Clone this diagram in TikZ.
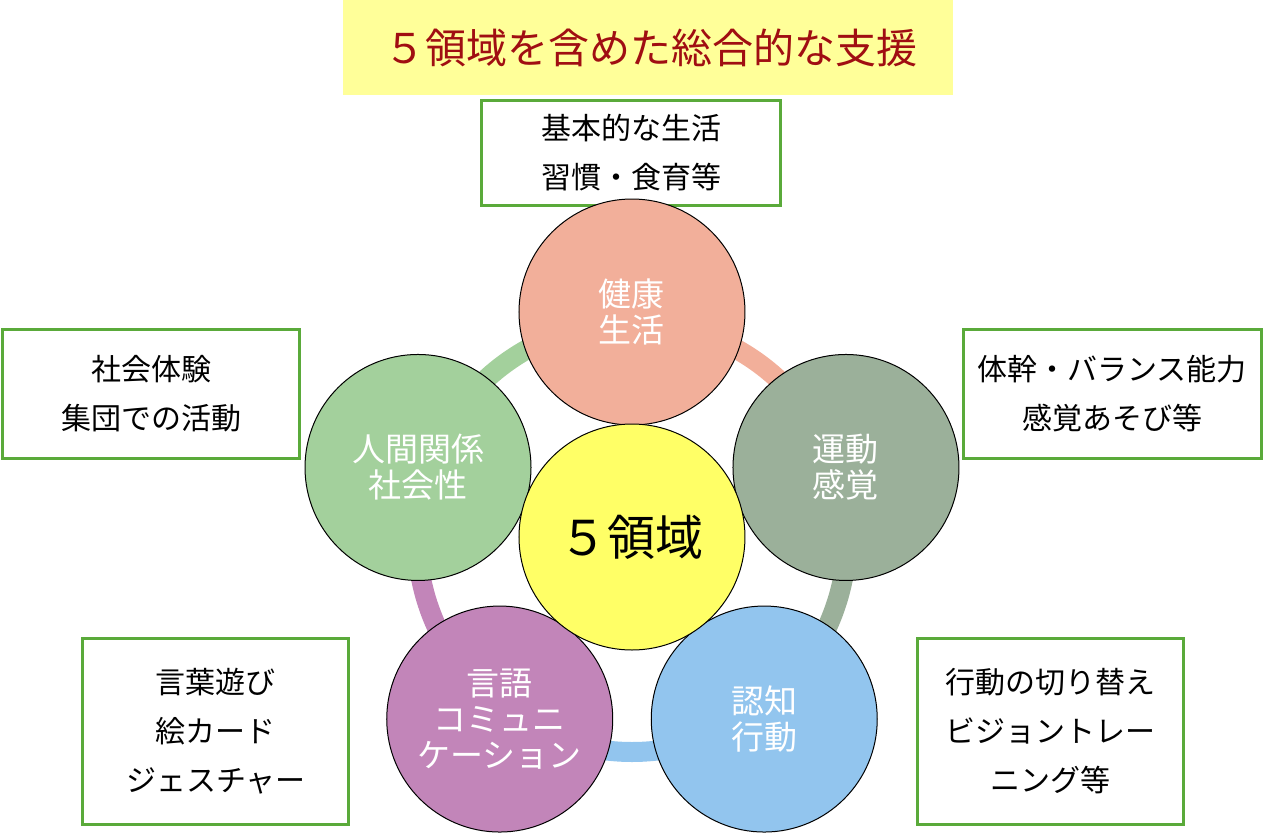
\documentclass[tikz,border=0pt]{standalone}
\usepackage{fontspec}
\setmainfont{Noto Sans CJK JP}
\usepackage{tikz}
\usetikzlibrary{positioning}

\definecolor{kenkoColor}{HTML}{F2AF9A}
\definecolor{undoColor}{HTML}{9BB09A}
\definecolor{ninchiColor}{HTML}{92C5EE}
\definecolor{gengoColor}{HTML}{C285B9}
\definecolor{ningenColor}{HTML}{A3D09C}
\definecolor{coreColor}{HTML}{FFFF66}
\definecolor{titleBack}{HTML}{FFFF99}
\definecolor{titleText}{HTML}{A00E12}
\definecolor{boxGreen}{HTML}{5AAA3A}

\tikzset{
  area/.style={circle, draw=black, line width=0.5pt, minimum size=113pt,
    inner sep=0pt, align=center, text=white,
    font=\fontsize{16.5}{18}\selectfont},
  note/.style={draw=boxGreen, line width=1.5pt, fill=white, align=center,
    inner sep=0pt, font=\fontsize{15}{24.5}\selectfont},
  ring/.style={line width=10pt}
}

\begin{document}
\begin{tikzpicture}[x=0.5pt, y=0.5pt]
\useasboundingbox (-632,-295) rectangle (632,537);

% Title
\fill[titleBack] (-289,442) rectangle (321,537);
\node[text=titleText, font=\fontsize{20.5}{24}\selectfont] (title) at (19,489) {５領域を含めた総合的な支援};

% Notes
\node[note, minimum width=149.5pt, minimum height=52.5pt] (kenkoNote) at (-0.5,384.5) {基本的な生活\\習慣・食育等};
\node[note, minimum width=148.5pt, minimum height=64.5pt] (ningenNote) at (-480.5,143.5) {社会体験\\集団での活動};
\node[note, minimum width=149pt, minimum height=64.5pt] (undoNote) at (480,143.5) {体幹・バランス能力\\感覚あそび等};
\node[note, minimum width=133pt, minimum height=93pt] (gengoNote) at (-416,-194) {言葉遊び\\絵カード\\ジェスチャー};
\node[note, minimum width=133pt, minimum height=93pt] (ninchiNote) at (418,-194) {行動の切り替え\\ビジョントレー\\ニング等};

% Ring behind the circles
\draw[ring, kenkoColor] (90:215) arc[start angle=90, end angle=18, radius=215];
\draw[ring, undoColor] (18:215) arc[start angle=18, end angle=-54, radius=215];
\draw[ring, ninchiColor] (-54:215) arc[start angle=-54, end angle=-126, radius=215];
\draw[ring, gengoColor] (-126:215) arc[start angle=-126, end angle=-198, radius=215];
\draw[ring, ningenColor] (162:215) arc[start angle=162, end angle=90, radius=215];

% Five areas
\node[area, fill=kenkoColor] (kenko) at (90:225) {健康\\生活};
\node[area, fill=undoColor] (undo) at (18:225) {運動\\感覚};
\node[area, fill=ninchiColor] (ninchi) at (-54:225) {認知\\行動};
\node[area, fill=gengoColor] (gengo) at (-126:225) {言語\\コミュニ\\ケーション};
\node[area, fill=ningenColor] (ningen) at (162:225) {人間関係\\社会性};
\node[area, fill=coreColor, text=black, font=\fontsize{24}{26}\selectfont] (core) at (0,0) {５領域};
\end{tikzpicture}
\end{document}
